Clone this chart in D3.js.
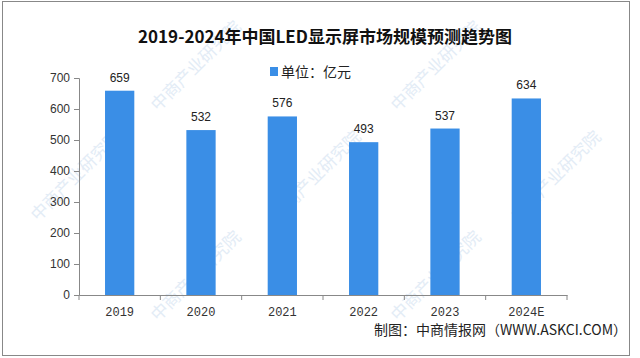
<!DOCTYPE html>
<html><head><meta charset="utf-8">
<script src="https://cdn.jsdelivr.net/npm/d3@7"></script>
<style>body{margin:0;background:#fff}svg{display:block}</style>
</head><body>
<script>
const categories = ["2019","2020","2021","2022","2023","2024E"];
const values = [659,532,576,493,537,634];
const yTicks = [0,100,200,300,400,500,600,700];
const title = "2019-2024年中国LED显示屏市场规模预测趋势图";
const legendLabel = "单位：亿元";
const source = "制图：中商情报网（WWW.ASKCI.COM）";
const watermark = "中商产业研究院";

const W=640,H=358;
const svg=d3.select("body").append("svg").attr("width",W).attr("height",H);
svg.append("rect").attr("x",0).attr("y",0).attr("width",W).attr("height",H).attr("fill","#fff");

// watermarks (faint)
const wm=svg.append("g").attr("fill","#e3ecf6").attr("font-family","Noto Sans CJK SC").attr("font-size",17);
const wmPos=[[200,70],[440,70],[80,180],[320,180],[560,180],[200,280],[440,280]];
wmPos.forEach(([x,y])=>{
  wm.append("text").attr("transform",`translate(${x},${y}) rotate(-45)`).attr("text-anchor","middle").text(watermark);
});

// border
svg.append("rect").attr("x",2.5).attr("y",1.5).attr("width",627).attr("height",354).attr("fill","none").attr("stroke","#888").attr("stroke-width",1);

const m={l:79,r:567,t:78,b:295};
const x=d3.scaleBand().domain(categories).range([m.l,m.r]).paddingInner(0.64).paddingOuter(0.32);
const xb=d3.scaleBand().domain(categories).range([m.l,m.r]);
const y=d3.scaleLinear().domain([0,700]).range([m.b,m.t]);

// y axis
const ya=svg.append("g").attr("transform",`translate(${m.l},0)`).call(d3.axisLeft(y).tickValues(yTicks).tickSize(5).tickPadding(4));
ya.selectAll("path,line").attr("stroke","#888");
ya.selectAll("text").attr("font-family","Liberation Sans, Arial").attr("font-size",12).attr("fill","#333");

// x axis
const xa=svg.append("g").attr("transform",`translate(0,${m.b})`).call(d3.axisBottom(xb).tickSize(0).tickPadding(12));
xa.select("path").attr("stroke","#888");
xa.selectAll("text").attr("font-family","Liberation Mono, DejaVu Sans Mono").attr("font-size",12).attr("fill","#333");
// boundary ticks
svg.append("g").selectAll("line").data(categories.concat(["end"])).join("line")
  .attr("x1",(d,i)=>m.l+i*xb.step()).attr("x2",(d,i)=>m.l+i*xb.step())
  .attr("y1",m.b).attr("y2",m.b+5).attr("stroke","#888");

// bars
svg.append("g").selectAll("rect").data(values).join("rect")
  .attr("x",(d,i)=>x(categories[i])).attr("width",x.bandwidth())
  .attr("y",d=>y(d)).attr("height",d=>y(0)-y(d)).attr("fill","#3a8ee6");

// value labels
svg.append("g").selectAll("text").data(values).join("text")
  .attr("x",(d,i)=>x(categories[i])+x.bandwidth()/2).attr("y",d=>y(d)-9)
  .attr("text-anchor","middle").attr("font-family","Liberation Sans, Arial").attr("font-size",12).attr("fill","#222").text(d=>d);

// title
svg.append("text").attr("x",325).attr("y",43).attr("text-anchor","middle")
  .attr("font-family","Noto Sans CJK SC").attr("font-weight","bold").attr("font-size",17).attr("fill","#111").text(title);

// legend
svg.append("rect").attr("x",270).attr("y",67).attr("width",8).attr("height",9).attr("fill","#3a8ee6");
svg.append("text").attr("x",281).attr("y",77).attr("font-family","Noto Sans CJK SC").attr("font-size",14).attr("fill","#222").text(legendLabel);

// source
svg.append("text").attr("x",627).attr("y",335).attr("text-anchor","end")
  .attr("font-family","Noto Sans CJK SC").attr("font-size",14).attr("fill","#222").text(source);
</script>
</body></html>
